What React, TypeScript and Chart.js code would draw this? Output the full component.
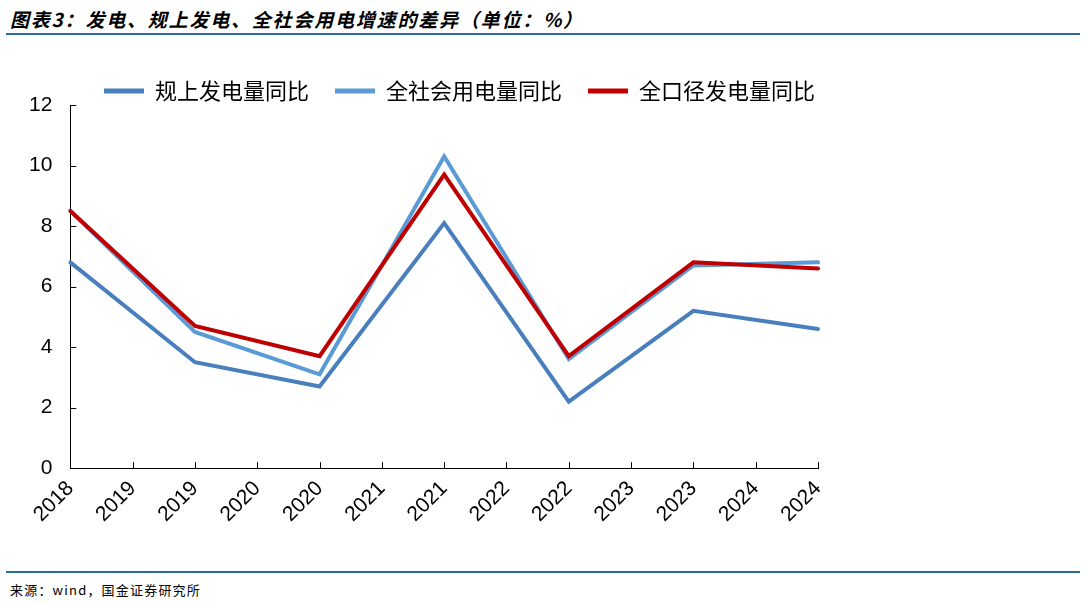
import { useEffect, useRef } from "react";
import { Chart, registerables } from "chart.js";

Chart.register(...registerables);

const tickLabels = ["2018", "2019", "2019", "2020", "2020", "2021", "2021", "2022", "2022", "2023", "2023", "2024", "2024"];
// 规上发电量同比
const guiShang = [6.8, null, 3.5, null, 2.7, null, 8.1, null, 2.2, null, 5.2, null, 4.6];
// 全社会用电量同比
const quanShehui = [8.5, null, 4.5, null, 3.1, null, 10.3, null, 3.6, null, 6.7, null, 6.8];
// 全口径发电量同比
const quanKoujing = [8.5, null, 4.7, null, 3.7, null, 9.7, null, 3.7, null, 6.8, null, 6.6];

const yTicks = [0, 2, 4, 6, 8, 10, 12];

const LEGEND_PAD = 26;

// tick marks pointing into the plot
const innerTicks = {
  id: "innerTicks",
  afterDraw(chart: any) {
    const { ctx, scales } = chart;
    const x = scales.x;
    const y = scales.y;
    ctx.save();
    ctx.strokeStyle = "#000";
    ctx.lineWidth = 1;
    ctx.beginPath();
    x.ticks.forEach((_: any, i: number) => {
      const px = Math.round(x.getPixelForTick(i)) + 0.5;
      ctx.moveTo(px, x.top);
      ctx.lineTo(px, x.top - 6);
    });
    y.ticks.forEach((_: any, i: number) => {
      const py = Math.round(y.getPixelForTick(i)) + 0.5;
      ctx.moveTo(y.right, py);
      ctx.lineTo(y.right + 6, py);
    });
    ctx.stroke();
    ctx.restore();
  },
};

// tighter legend block, pushed to the right edge of the plot
const legendTweak = {
  id: "legendTweak",
  afterInit(chart: any) {
    const legend = chart.legend;
    if (!legend || legend._tweaked) return;
    const fit = legend.fit;
    legend.fit = function () {
      fit.call(this);
      this.height -= 7;
    };
    legend._tweaked = true;
  },
  afterLayout(chart: any) {
    const legend = chart.legend;
    if (!legend) return;
    legend.left += LEGEND_PAD - 3;
    legend.right += LEGEND_PAD - 3;
  },
};

function LineChart() {
  const canvasRef = useRef<HTMLCanvasElement>(null);
  const chartRef = useRef<any>(null);

  useEffect(() => {
    if (!canvasRef.current) return;
    const ctx = canvasRef.current.getContext("2d");
    if (!ctx) return;
    if (chartRef.current) chartRef.current.destroy();

    const common = { borderWidth: 4, pointRadius: 0, tension: 0, spanGaps: true, borderCapStyle: "round" as const };

    chartRef.current = new Chart(ctx, {
      type: "line",
      data: {
        labels: tickLabels,
        datasets: [
          { label: "规上发电量同比", data: guiShang, borderColor: "#4A7FBD", backgroundColor: "#4A7FBD", order: 2, ...common },
          { label: "全社会用电量同比", data: quanShehui, borderColor: "#5B9BD5", backgroundColor: "#5B9BD5", order: 1, ...common },
          { label: "全口径发电量同比", data: quanKoujing, borderColor: "#C00000", backgroundColor: "#C00000", order: 0, ...common },
        ],
      },
      options: {
        animation: false,
        responsive: true,
        maintainAspectRatio: false,
        layout: { padding: { left: 11, right: 106, top: 0, bottom: 0 } },
        scales: {
          x: {
            offset: false,
            border: { display: true, color: "#000", width: 1 },
            grid: { display: true, drawOnChartArea: false, drawTicks: false },
            ticks: {
              color: "#000",
              font: { family: "'Liberation Sans', Arial, sans-serif", size: 21 },
              maxRotation: 45,
              minRotation: 45,
              autoSkip: false,
              padding: 8,
            },
          },
          y: {
            min: 0,
            max: 12,
            afterBuildTicks: (scale: any) => {
              scale.ticks = yTicks.map((v) => ({ value: v }));
            },
            border: { display: true, color: "#000", width: 1 },
            grid: { display: true, drawOnChartArea: false, drawTicks: false },
            ticks: {
              color: "#000",
              font: { family: "'Liberation Sans', Arial, sans-serif", size: 21 },
              padding: 18,
            },
          },
        },
        plugins: {
          legend: {
            position: "top",
            align: "end",
            labels: {
              color: "#000",
              font: { family: "'Noto Sans CJK SC', sans-serif", size: 22 },
              boxWidth: 40,
              boxHeight: 5,
              padding: LEGEND_PAD,
              sort: (a: any, b: any) => a.datasetIndex - b.datasetIndex,
              generateLabels: (chart: any) =>
                Chart.defaults.plugins.legend.labels.generateLabels(chart).map((l: any) => ({ ...l, lineWidth: 0 })),
            },
          },
          tooltip: { enabled: false },
        },
      },
      plugins: [innerTicks, legendTweak],
    });

    return () => chartRef.current?.destroy();
  }, []);

  return (
    <div style={{ position: "absolute", left: 0, top: 54, width: 924, height: 481 }}>
      <canvas ref={canvasRef} />
    </div>
  );
}

export default function App() {
  useEffect(() => {
    document.body.style.margin = "0";
  }, []);

  return (
    <div style={{ position: "relative", width: 1086, height: 603, background: "#fff", overflow: "hidden" }}>
      <div
        style={{
          position: "absolute",
          left: 10,
          top: 5,
          fontFamily: "'Noto Sans CJK SC', sans-serif",
          fontSize: 19,
          fontWeight: "bold",
          fontStyle: "italic",
          letterSpacing: 1.8,
          color: "#000",
          whiteSpace: "nowrap",
        }}
      >
        图表3：发电、规上发电、全社会用电增速的差异（单位：%）
      </div>
      <div style={{ position: "absolute", left: 6, right: 6, top: 33, height: 2, background: "#2C6A9B" }} />
      <LineChart />
      <div style={{ position: "absolute", left: 6, right: 6, top: 571, height: 2, background: "#2C6A9B" }} />
      <div
        style={{
          position: "absolute",
          left: 10,
          top: 580,
          fontFamily: "'Noto Sans CJK SC', sans-serif",
          fontSize: 13,
          letterSpacing: 1.2,
          color: "#000",
          whiteSpace: "nowrap",
        }}
      >
        来源：wind，国金证券研究所
      </div>
    </div>
  );
}
